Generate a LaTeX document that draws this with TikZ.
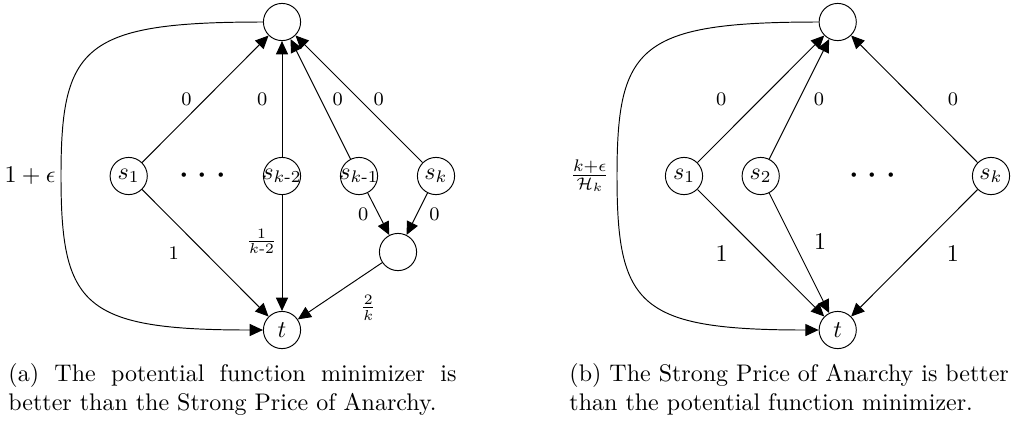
\documentclass[tikz,border=0pt]{standalone}
\usepackage{amsmath,amssymb}
\usetikzlibrary{arrows.meta,positioning}
\tikzset{
  vtx/.style={draw, circle, minimum size=15.5pt, inner sep=-1pt},
  lbl/.style={font=\footnotesize, inner sep=1pt},
  wlbl/.style={inner sep=1pt},
  dotsnode/.style={font=\LARGE, inner sep=0pt},
  arr/.style={-{Triangle[length=5.5pt,width=5pt]}},
  captxt/.style={anchor=north west, inner sep=0pt},
}

\begin{document}
\begin{tikzpicture}[x=0.4167pt, y=-0.4167pt]
\useasboundingbox (0,0) rectangle (1011,421);

% (a) potential function minimizer
\node[vtx] (a-top) at (282,22) {};
\node[vtx] (a-s1) at (128.7,176) {$s_1$};
\node[dotsnode] (a-dots) at (206,176) {$\cdots$};
\node[vtx] (a-sk2) at (282,176) {$s_{k\text{-}2}$};
\node[vtx] (a-sk1) at (359,176) {$s_{k\text{-}1}$};
\node[vtx] (a-sk) at (436,176) {$s_k$};
\node[vtx] (a-mid) at (398,252) {};
\node[vtx] (a-t) at (282,330) {$t$};
\coordinate (a-bend) at (61,176);

\draw[arr] (a-s1) -- node[lbl, left=4.5pt] {0} (a-top);
\draw[arr] (a-sk2) -- node[lbl, left=4.9pt] {0} (a-top);
\draw[arr] (a-sk1) -- node[lbl, right=3.9pt] {0} (a-top);
\draw[arr] (a-sk) -- node[lbl, right=4.9pt] {0} (a-top);
\draw[arr] (a-sk1) -- node[lbl, left=3pt] {0} (a-mid);
\draw[arr] (a-sk) -- node[lbl, right=4pt] {0} (a-mid);
\draw[arr] (a-s1) -- node[lbl, left=9.9pt] {1} (a-t);
\draw[arr] (a-sk2) -- node[lbl, pos=0.4, left=1pt] {$\frac{1}{k\text{-}2}$} (a-t);
\draw[arr] (a-mid) -- node[lbl, below right=0.7pt and 7.3pt] {$\frac{2}{k}$} (a-t);
\draw[arr] (a-top.west) .. controls (83,22) and (61,46) .. (a-bend)
  node[wlbl, left=1pt] {$1+\epsilon$}
  .. controls (61,306) and (83,330) .. (a-t.west);

\node[captxt, text width=186.7pt, align=justify] (a-cap) at (8,363.5)
  {(a) The potential function minimizer is\linebreak better than the Strong Price of Anarchy.};

% (b) strong price of anarchy
\node[vtx] (b-top) at (837.7,22) {};
\node[vtx] (b-s1) at (684,176) {$s_1$};
\node[vtx] (b-s2) at (760.7,176) {$s_2$};
\node[dotsnode] (b-dots) at (876,176) {$\cdots$};
\node[vtx] (b-sk) at (991,176) {$s_k$};
\node[vtx] (b-t) at (837.7,330) {$t$};
\coordinate (b-bend) at (617,176);

\draw[arr] (b-s1) -- node[lbl, left=13.2pt] {0} (b-top);
\draw[arr] (b-s2) -- node[lbl, right=4.9pt] {0} (b-top);
\draw[arr] (b-sk) -- node[lbl, right=12.8pt] {0} (b-top);
\draw[arr] (b-s1) -- node[wlbl, left=12.7pt] {1} (b-t);
\draw[arr] (b-s2) -- node[wlbl, pos=0.4, right=7.5pt] {1} (b-t);
\draw[arr] (b-sk) -- node[wlbl, right=12.3pt] {1} (b-t);
\draw[arr] (b-top.west) .. controls (638.7,22) and (617,46) .. (b-bend)
  node[wlbl, left=2pt] {$\frac{k+\epsilon}{\mathcal{H}_k}$}
  .. controls (617,306) and (638.7,330) .. (b-t.west);

\node[captxt, align=left] (b-cap) at (569,363.5)
  {(b) The Strong Price of Anarchy is better\\than the potential function minimizer.};

\end{tikzpicture}
\end{document}
